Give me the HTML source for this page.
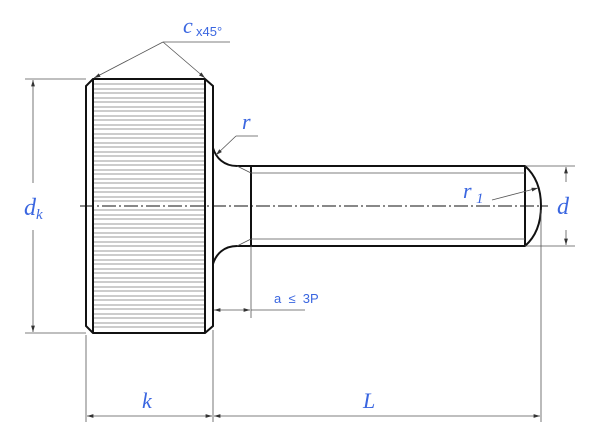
<!DOCTYPE html>
<html><head><meta charset="utf-8"><style>
html,body{margin:0;padding:0;background:#fff;width:600px;height:430px;overflow:hidden}
svg{display:block}
.t{font-family:"Liberation Serif",serif;font-style:italic;fill:#3a66e0}
.s{font-family:"Liberation Sans",sans-serif;fill:#3a66e0}
</style></head><body>
<svg width="600" height="430" viewBox="0 0 600 430" xmlns="http://www.w3.org/2000/svg">
<defs>
<marker id="a" viewBox="0 0 10 6" refX="10" refY="3" markerWidth="8" markerHeight="5" orient="auto-start-reverse"><path d="M0,0 L10,3 L0,6 z" fill="#333"/></marker>
</defs>
<g stroke="#777" stroke-width="0.8">
<line x1="93" y1="84" x2="205" y2="84"/><line x1="93" y1="89" x2="205" y2="89"/><line x1="93" y1="93" x2="205" y2="93"/><line x1="93" y1="98" x2="205" y2="98"/><line x1="93" y1="102" x2="205" y2="102"/><line x1="93" y1="107" x2="205" y2="107"/><line x1="93" y1="111" x2="205" y2="111"/><line x1="93" y1="116" x2="205" y2="116"/><line x1="93" y1="120" x2="205" y2="120"/><line x1="93" y1="125" x2="205" y2="125"/><line x1="93" y1="129" x2="205" y2="129"/><line x1="93" y1="134" x2="205" y2="134"/><line x1="93" y1="138" x2="205" y2="138"/><line x1="93" y1="143" x2="205" y2="143"/><line x1="93" y1="147" x2="205" y2="147"/><line x1="93" y1="152" x2="205" y2="152"/><line x1="93" y1="156" x2="205" y2="156"/><line x1="93" y1="161" x2="205" y2="161"/><line x1="93" y1="165" x2="205" y2="165"/><line x1="93" y1="170" x2="205" y2="170"/><line x1="93" y1="174" x2="205" y2="174"/><line x1="93" y1="179" x2="205" y2="179"/><line x1="93" y1="183" x2="205" y2="183"/><line x1="93" y1="188" x2="205" y2="188"/><line x1="93" y1="192" x2="205" y2="192"/><line x1="93" y1="197" x2="205" y2="197"/><line x1="93" y1="201" x2="205" y2="201"/><line x1="93" y1="210" x2="205" y2="210"/><line x1="93" y1="215" x2="205" y2="215"/><line x1="93" y1="219" x2="205" y2="219"/><line x1="93" y1="224" x2="205" y2="224"/><line x1="93" y1="228" x2="205" y2="228"/><line x1="93" y1="233" x2="205" y2="233"/><line x1="93" y1="237" x2="205" y2="237"/><line x1="93" y1="242" x2="205" y2="242"/><line x1="93" y1="246" x2="205" y2="246"/><line x1="93" y1="251" x2="205" y2="251"/><line x1="93" y1="255" x2="205" y2="255"/><line x1="93" y1="260" x2="205" y2="260"/><line x1="93" y1="264" x2="205" y2="264"/><line x1="93" y1="269" x2="205" y2="269"/><line x1="93" y1="273" x2="205" y2="273"/><line x1="93" y1="278" x2="205" y2="278"/><line x1="93" y1="282" x2="205" y2="282"/><line x1="93" y1="287" x2="205" y2="287"/><line x1="93" y1="291" x2="205" y2="291"/><line x1="93" y1="296" x2="205" y2="296"/><line x1="93" y1="300" x2="205" y2="300"/><line x1="93" y1="305" x2="205" y2="305"/><line x1="93" y1="309" x2="205" y2="309"/><line x1="93" y1="314" x2="205" y2="314"/><line x1="93" y1="318" x2="205" y2="318"/><line x1="93" y1="323" x2="205" y2="323"/><line x1="93" y1="327" x2="205" y2="327"/>
</g>
<g fill="none" stroke="#111" stroke-width="2">
<path d="M93,79 L205,79 L213,86 L213,326 L205,333 L93,333 L86,326 L86,86 Z"/>
<line x1="93" y1="79" x2="93" y2="333"/>
<line x1="205" y1="79" x2="205" y2="333"/>
<path d="M213,148 C216,158 224,166 237,166 L525,166 Q541,180 541,206 Q541,232 525,246 L237,246 C224,246 216,254 213,264"/>
<line x1="251" y1="166" x2="251" y2="246"/>
<line x1="525" y1="166" x2="525" y2="246"/>
</g>
<g stroke="#555" stroke-width="0.8" fill="none">
<line x1="251" y1="173" x2="525" y2="173"/>
<line x1="251" y1="239" x2="525" y2="239"/>
<line x1="237" y1="166" x2="251" y2="173"/>
<line x1="237" y1="246" x2="251" y2="239"/>
<line x1="80" y1="206" x2="548" y2="206" stroke="#111" stroke-width="1" stroke-dasharray="14,3,2,3"/>
<line x1="25" y1="79" x2="86" y2="79"/>
<line x1="25" y1="333" x2="86" y2="333"/>
<line x1="33" y1="183" x2="33" y2="80" marker-end="url(#a)"/>
<line x1="33" y1="230" x2="33" y2="332" marker-end="url(#a)"/>
<line x1="86" y1="335" x2="86" y2="422"/>
<line x1="213" y1="330" x2="213" y2="422"/>
<line x1="541" y1="210" x2="541" y2="422"/>
<line x1="87" y1="416" x2="212" y2="416" marker-start="url(#a)" marker-end="url(#a)"/>
<line x1="214" y1="416" x2="540" y2="416" marker-start="url(#a)" marker-end="url(#a)"/>
<line x1="525" y1="166" x2="575" y2="166"/>
<line x1="525" y1="246" x2="575" y2="246"/>
<line x1="566" y1="182" x2="566" y2="167" marker-end="url(#a)"/>
<line x1="566" y1="230" x2="566" y2="245" marker-end="url(#a)"/>
<line x1="251" y1="246" x2="251" y2="318"/>
<line x1="214" y1="310" x2="250" y2="310" marker-start="url(#a)" marker-end="url(#a)"/>
<line x1="251" y1="310" x2="305" y2="310"/>
<line x1="163" y1="42" x2="230" y2="42"/>
<line x1="163" y1="42" x2="94" y2="78" marker-end="url(#a)"/>
<line x1="163" y1="42" x2="205" y2="78" marker-end="url(#a)"/>
<line x1="258" y1="136" x2="236" y2="136"/>
<line x1="236" y1="136" x2="216" y2="155" marker-end="url(#a)"/>
<line x1="492" y1="200" x2="538" y2="188" marker-end="url(#a)"/>
</g>
<text class="t" x="183" y="33" font-size="22">c</text>
<text class="s" x="196" y="36" font-size="13">x45°</text>
<text class="t" x="242" y="129" font-size="22">r</text>
<text class="t" x="463" y="198" font-size="22">r</text>
<text class="t" x="476" y="203" font-size="15">1</text>
<text class="t" x="24" y="215" font-size="24">d</text>
<text class="t" x="36" y="219" font-size="15">k</text>
<text class="t" x="557" y="214" font-size="24">d</text>
<text class="t" x="142" y="408" font-size="22">k</text>
<text class="t" x="363" y="408" font-size="22">L</text>
<text class="s" x="274" y="303" font-size="13" xml:space="preserve">a  ≤  3P</text>
</svg>
</body></html>
